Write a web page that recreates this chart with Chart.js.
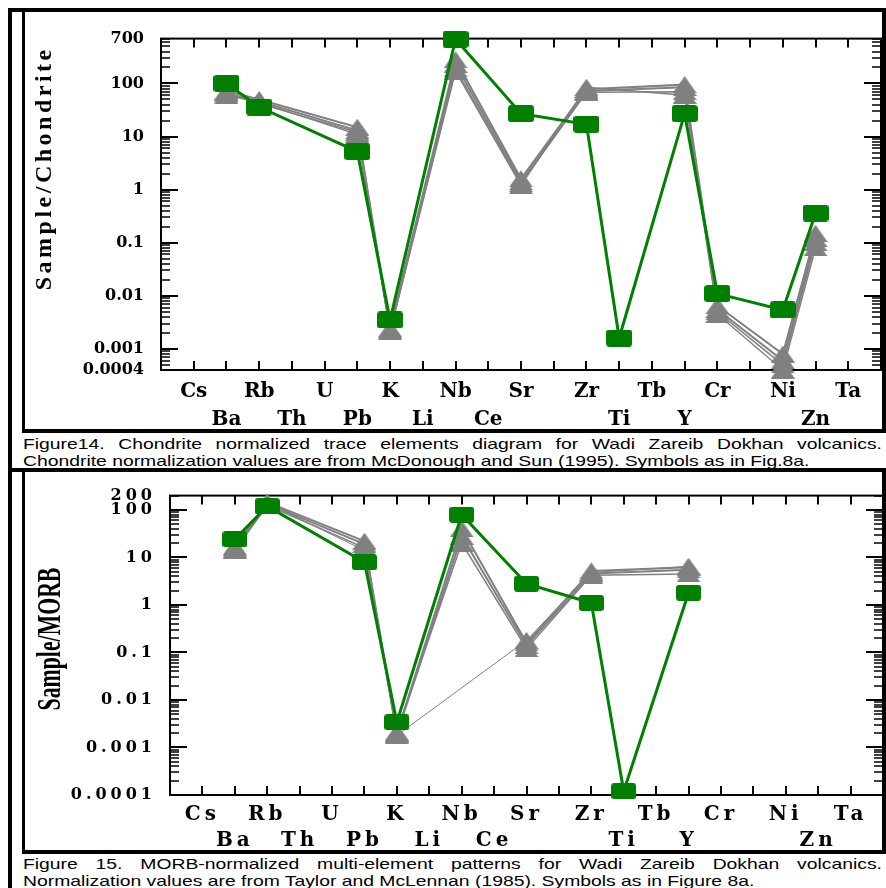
<!DOCTYPE html>
<html lang="en">
<head>
<meta charset="UTF-8">
<title>Wadi Zareib Dokhan volcanics</title>
<script src="https://cdn.jsdelivr.net/npm/chart.js"></script>
<style>
  body { margin: 0; background: #fff; }
  .fig { position: relative; width: 886px; height: 888px; overflow: hidden; }
  .bar { position: absolute; background: #000; z-index: 2; }
  canvas { position: absolute; }
  .cap { position: absolute; left: 23px; font-family: "Liberation Sans", Arial, sans-serif; font-size: 15px;
         line-height: 17px; color: #000; transform-origin: 0 50%; white-space: nowrap; }
  .just { text-align: justify; text-align-last: justify; white-space: normal; }
</style>
</head>
<body>
<div class="fig">
  <!-- frame lines -->
  <div class="bar" style="left:8px;top:8px;width:4px;height:880px"></div>
  <div class="bar" style="left:8px;top:8px;width:878px;height:4px"></div>
  <div class="bar" style="left:22px;top:12px;width:3px;height:421px"></div>
  <div class="bar" style="left:882px;top:8px;width:4px;height:425px"></div>
  <div class="bar" style="left:22px;top:429px;width:864px;height:4px"></div>
  <div class="bar" style="left:8px;top:468px;width:878px;height:4px"></div>
  <div class="bar" style="left:22px;top:472px;width:3px;height:382px"></div>
  <div class="bar" style="left:882px;top:468px;width:4px;height:386px"></div>
  <div class="bar" style="left:22px;top:850px;width:864px;height:4px"></div>

  <canvas id="chondrite" width="856" height="417" style="left:26px;top:12px"></canvas>
  <canvas id="morb" width="858" height="378" style="left:26px;top:472px"></canvas>

  <div class="cap just" id="cap1a" style="top:434.5px">Figure14. Chondrite normalized trace elements diagram for Wadi Zareib Dokhan volcanics.</div>
  <div class="cap" id="cap1b" style="top:451.5px">Chondrite normalization values are from McDonough and Sun (1995). Symbols as in Fig.8a.</div>
  <div class="cap just" id="cap2a" style="top:854.5px">Figure 15. MORB-normalized multi-element patterns for Wadi Zareib Dokhan volcanics.</div>
  <div class="cap" id="cap2b" style="top:871.5px">Normalization values are from Taylor and McLennan (1985). Symbols as in Figure 8a.</div>
</div>

<script>
// element order along the x axis (blank slots have no element)
const cats = ['Cs', 'Ba', 'Rb', 'Th', 'U', 'Pb', 'K', 'Li', 'Nb', 'Ce', 'Sr', '', 'Zr', 'Ti', 'Tb', 'Y', 'Cr', '', 'Ni', 'Zn', 'Ta'];

// Figure 14 - chondrite normalized
const chondTicks = [0.0004, 0.001, 0.01, 0.1, 1, 10, 100, 700];
const chondTickLabels = ['0.0004', '0.001', '0.01', '0.1', '1', '10', '100', '700'];
const chondGreen = [null, 100, 36, null, null, 5.2, 0.0035, null, 680, null, 27, null, 17, 0.0016, null, 27, 0.011, null, 0.0054, 0.36, null];
const chondGrayA = [null, 72, 50, null, null, 15, 0.0024, null, 280, null, 1.6, null, 78, null, null, 95, 0.0065, null, 0.0008, 0.15, null];
const chondGrayB = [null, 65, 46, null, null, 13, 0.0023, null, 230, null, 1.4, null, 72, null, null, 85, 0.0055, null, 0.0006, 0.12, null];
const chondGrayC = [null, 60, 44, null, null, 11, 0.0022, null, 190, null, 1.3, null, 68, null, null, 70, 0.005, null, 0.0005, 0.1, null];
const chondGrayD = [null, 68, 42, null, null, 12, 0.0021, null, 170, null, 1.2, null, 85, null, null, 60, 0.0045, null, 0.0004, 0.08, null];

// Figure 15 - MORB normalized
const morbTicks = [0.0001, 0.001, 0.01, 0.1, 1, 10, 100, 200];
const morbTickLabels = ['0.0001', '0.001', '0.01', '0.1', '1', '10', '100', '200'];
const morbGreen = [null, 24, 120, null, null, 7.9, 0.0034, null, 79, null, 2.8, null, 1.1, 0.00012, null, 1.8, null, null, null, null, null];
const morbGrayA = [null, 16, 145, null, null, 22, 0.002, null, 40, null, 0.16, null, 5.2, null, null, 6.2, null, null, null, null, null];
const morbGrayB = [null, 15, 135, null, null, 19, 0.0019, null, 28, null, 0.14, null, 4.6, null, null, 5.5, null, null, null, null, null];
const morbGrayC = [null, 14, 125, null, null, 16, 0.0021, null, 20, null, 0.12, null, 4.2, null, null, 4.5, null, null, null, null, null];
const morbGrayD = [null, 17, 140, null, null, 14, 0.0018, null, null, null, 0.18, null, 4.8, null, null, 6.5, null, null, null, null, null];

const GREEN = '#008000';
const GRAY = '#808080';

function pts(arr) {
  return arr.map((v, i) => (v == null ? null : { x: i, y: v })).filter(p => p);
}

function squareMark(w, h) {
  const c = document.createElement('canvas');
  c.width = w; c.height = h;
  const g = c.getContext('2d');
  g.fillStyle = GREEN;
  g.beginPath();
  g.roundRect(0, 0, w, h, 3);
  g.fill();
  return c;
}

function triangleMark(w, h) {
  const c = document.createElement('canvas');
  c.width = w; c.height = h;
  const g = c.getContext('2d');
  g.fillStyle = GRAY;
  g.beginPath();
  g.moveTo(w / 2, 0);
  g.lineTo(w, h);
  g.lineTo(0, h);
  g.closePath();
  g.fill();
  return c;
}

// box around the plot with inward ticks on all sides
const framePlugin = {
  id: 'frame',
  beforeDatasetsDraw(chart) {
    const { ctx, chartArea: a, scales: { x, y } } = chart;
    ctx.save();
    ctx.strokeStyle = '#000';
    ctx.lineWidth = 2;
    ctx.strokeRect(a.left, a.top, a.right - a.left, a.bottom - a.top);
    const major = new Path2D(), minor = new Path2D();
    for (let i = 0; i < cats.length; i++) {
      const px = Math.round(x.getPixelForValue(i));
      major.moveTo(px, a.bottom); major.lineTo(px, a.bottom - 9);
      major.moveTo(px, a.top); major.lineTo(px, a.top + 9);
    }
    const lo = Math.floor(Math.log10(y.min)), hi = Math.ceil(Math.log10(y.max));
    for (let d = lo; d <= hi; d++) {
      for (let m = 1; m <= 9; m++) {
        const v = m * Math.pow(10, d);
        if (v < y.min * 0.999 || v > y.max * 1.001) continue;
        const py = Math.round(y.getPixelForValue(v));
        const p = m === 1 ? major : minor;
        const len = m === 1 ? 17 : 9;
        p.moveTo(a.left, py); p.lineTo(a.left + len, py);
        p.moveTo(a.right, py); p.lineTo(a.right - len, py);
      }
    }
    ctx.stroke(major);
    ctx.lineWidth = 1.5;
    ctx.stroke(minor);
    ctx.restore();
  }
};

// rotated y axis title; cx is where the baseline sits
function titlePlugin(text, cx, cy, font, spacing, squeeze) {
  return {
    id: 'ytitle',
    afterDraw(chart) {
      const ctx = chart.ctx;
      ctx.save();
      ctx.translate(cx, cy);
      ctx.rotate(-Math.PI / 2);
      ctx.scale(squeeze, 1);
      ctx.font = font;
      ctx.letterSpacing = spacing + 'px';
      ctx.textAlign = 'center';
      ctx.textBaseline = 'alphabetic';
      ctx.fillStyle = '#000';
      ctx.fillText(text, spacing / 2, 0);
      ctx.restore();
    }
  };
}

function spacingPlugin(px) {
  return {
    id: 'spacing',
    beforeDraw(chart) { chart.ctx.letterSpacing = px + 'px'; },
    afterDraw(chart) { chart.ctx.letterSpacing = '0px'; }
  };
}

function drawPanel(id, p) {
  const datasets = [{
    data: pts(p.green), borderColor: GREEN, borderWidth: 3, pointStyle: p.square, pointRadius: 6
  }];
  p.grays.forEach((g, k) => {
    datasets.push({ data: pts(g), borderColor: GRAY, borderWidth: p.grayWidths[k], pointStyle: p.triangle, pointRadius: 6 });
  });
  datasets.forEach(d => { d.tension = 0; d.clip = false; d.fill = false; });

  const labelFont = { family: '"DejaVu Serif", serif', weight: 'bold' };
  return new Chart(document.getElementById(id), {
    type: 'line',
    data: { datasets },
    options: {
      responsive: false,
      animation: false,
      events: [],
      layout: { autoPadding: false, padding: { top: p.padTop, right: 1, left: 0, bottom: 0 } },
      plugins: { legend: { display: false }, tooltip: { enabled: false } },
      scales: {
        x: {
          type: 'linear', min: -1, max: cats.length,
          afterBuildTicks: s => { s.ticks = cats.map((c, i) => ({ value: i })); },
          afterFit: s => { s.height = p.xHeight; },
          grid: { display: false, drawTicks: false },
          border: { display: false },
          ticks: {
            autoSkip: false, maxRotation: 0, minRotation: 0, padding: p.xPad, color: '#000',
            font: Object.assign({ size: 20, lineHeight: p.lineH + 'px' }, labelFont),
            callback: (v, i) => (i % 2 === 0 ? cats[i] : ['', cats[i]])
          }
        },
        y: {
          type: 'logarithmic', min: p.yTicks[0], max: p.yTicks[p.yTicks.length - 1],
          afterBuildTicks: s => { s.ticks = p.yTicks.map(v => ({ value: v })); },
          afterFit: s => { s.width = p.yWidth; },
          grid: { display: false, drawTicks: false },
          border: { display: false },
          ticks: {
            padding: p.yPad, color: '#000',
            font: Object.assign({ size: 16 }, labelFont),
            callback: (v, i) => p.yLabels[i]
          }
        }
      }
    },
    plugins: [framePlugin, spacingPlugin(p.spacing), p.title]
  });
}

drawPanel('chondrite', {
  green: chondGreen,
  grays: [chondGrayA, chondGrayB, chondGrayC, chondGrayD],
  grayWidths: [2, 2, 1.5, 1.5],
  square: squareMark(26, 17),
  triangle: triangleMark(24, 17),
  yTicks: chondTicks, yLabels: chondTickLabels,
  padTop: 22, yWidth: 135, xHeight: 59, xPad: 8, lineH: 28, yPad: 17, spacing: 0,
  title: titlePlugin('Sample/Chondrite', 25, 158, 'bold 24px "Liberation Serif"', 3.5, 1)
});

drawPanel('morb', {
  green: morbGreen,
  grays: [morbGrayA, morbGrayB, morbGrayC, morbGrayD],
  grayWidths: [2, 2, 1.5, 1],
  square: squareMark(25, 16),
  triangle: triangleMark(24, 17),
  yTicks: morbTicks, yLabels: morbTickLabels,
  padTop: 14, yWidth: 144, xHeight: 55, xPad: 7, lineH: 26, yPad: 14, spacing: 4,
  title: titlePlugin('Sample/MORB', 34, 167, 'bold 33px "Liberation Serif"', 0, 0.66)
});

// stretch the caption text to the width it has in the figure
function fitCaption(a, b, endX) {
  const s = (endX - 23) / b.offsetWidth;
  b.style.transform = 'scaleX(' + s + ')';
  a.style.width = (859 / s) + 'px';
  a.style.transform = 'scaleX(' + s + ')';
}
fitCaption(document.getElementById('cap1a'), document.getElementById('cap1b'), 809);
fitCaption(document.getElementById('cap2a'), document.getElementById('cap2b'), 755);
</script>
</body>
</html>
